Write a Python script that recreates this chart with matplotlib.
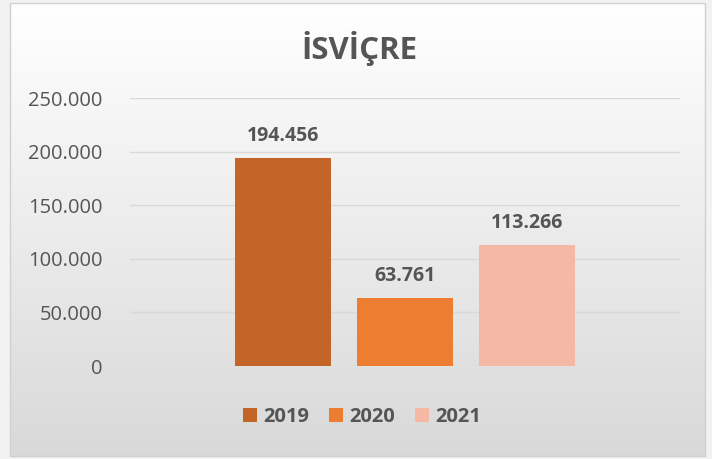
import numpy as np
import matplotlib.pyplot as plt
from matplotlib.patches import Rectangle
from matplotlib.ticker import FuncFormatter

plt.rcParams['font.family'] = ['Open Sans', 'DejaVu Sans']

# ─── Veriler ──────────────────────────────────────────────────────────────
yillar = ["2019", "2020", "2021"]
degerler = [194456, 63761, 113266]
renkler = ["#c46528", "#ed7d31", "#f5b8a5"]
baslik = "İSVİÇRE"

GRI = "#555555"

def nokta(v):
    return f"{v:,.0f}".replace(",", ".")

fig = plt.figure(figsize=(7.12, 4.59), dpi=100)
fig.patch.set_facecolor("#f2f2f2")

# arka plan gradyanı (beyaz -> açık gri)
bg = fig.add_axes([10/712, 3/459, 695/712, 453/459], zorder=0)
grad = np.linspace(1.0, 0.85, 256).reshape(-1, 1)
bg.imshow(np.dstack([grad, grad, grad]), aspect="auto", extent=[0, 1, 0, 1])
bg.set_axis_off()
fig.add_artist(Rectangle((10/712, 3/459), 695/712, 453/459, transform=fig.transFigure,
                         fill=False, edgecolor="#d0d0d0", lw=1, zorder=5))

ax = fig.add_axes([130/712, 93/459, 550/712, 268/459], zorder=1)
ax.patch.set_alpha(0)

x = np.arange(len(yillar))
bars = ax.bar(x, degerler, width=0.787, color=renkler, zorder=3, label=yillar)

for b, v in zip(bars, degerler):
    ax.text(b.get_x() + b.get_width()/2, v + 11000, nokta(v), ha="center", va="bottom",
            fontsize=14, fontweight="bold", color=GRI)

ax.set_xlim(-1.254, 3.254)
ax.set_ylim(0, 250000)
ax.set_yticks(np.arange(0, 250001, 50000))
ax.yaxis.set_major_formatter(FuncFormatter(lambda v, p: nokta(v)))
ax.tick_params(axis="y", length=0, labelsize=14.5, labelcolor=GRI, pad=20)
ax.set_xticks([])
ax.grid(axis="y", color="#d9d9d9", lw=1, zorder=0)
for s in ax.spines.values():
    s.set_visible(False)

fig.text(359/712, 1 - 48/459, baslik, ha="center", va="center",
         fontsize=22.5, fontweight="bold", color=GRI)

leg = fig.legend(bars, yillar, loc="center", bbox_to_anchor=(362/712, 1 - 417/459),
                 ncol=3, frameon=False, fontsize=14.5, handlelength=0.7, handleheight=0.7,
                 columnspacing=1.0, handletextpad=0.3)
for t in leg.get_texts():
    t.set_color(GRI)
    t.set_fontweight("bold")

plt.savefig("out.png", dpi=100, facecolor=fig.get_facecolor())
